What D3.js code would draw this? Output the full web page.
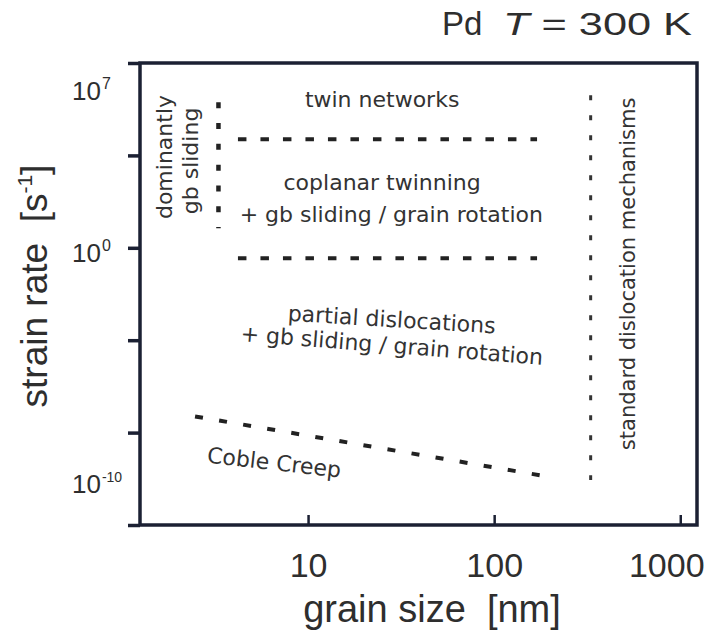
<!DOCTYPE html>
<html>
<head>
<meta charset="utf-8">
<title>Pd deformation map</title>
<script src="https://d3js.org/d3.v7.min.js"></script>
<style>
  body { margin: 0; background: #fff; }
  text { font-family: "Liberation Sans", Arial, sans-serif; fill: #2e2e2e; }
  .note { font-family: "DejaVu Sans", sans-serif; font-size: 22px; fill: #333; }
</style>
</head>
<body>
<div id="chart"></div>
<script>
// axis ticks: grain size in nm, strain rate decades
const xTicks = [10, 100, 1000];
const yTickMarks = [1e8, 1e4, 1e0, 1e-4, 1e-8, 1e-12];
const yLabelExps = [7, 0, -10];

// mechanism boundaries, [grain size nm, log10 strain rate]
const gbSlidingEdge = [[3.3, 6.3], [3.3, 0.85]];
const twinUpperEdge = [[4.2, 4.7], [170, 4.7]];
const twinLowerEdge = [[4.2, -0.45], [170, -0.45]];
const cobleCreepEdge = [[2.47, -7.3], [177, -9.85]];
const standardEdge = [[330, 6.6], [330, -10.05]];

// region names, placed at [grain size, log10 strain rate], angle in degrees
const regionNames = ["twin networks", "coplanar twinning", "+ gb sliding / grain rotation",
    "partial dislocations", "+ gb sliding / grain rotation", "Coble Creep",
    "dominantly", "gb sliding", "standard dislocation mechanisms"];
const regionSizes = [25, 25, 28, 28, 28, 6.5, 1.86, 2.56, 570];
const regionRates = [6.1, 2.5, 1.12, -3.43, -4.55, -9.62, 3.93, 3.76, -1.13];
const regionAngles = [0, 0, 0, 3.5, 4.5, 6.5, -90, -90, -90];

let margin = {top: 63, right: 13, bottom: 114, left: 140};
let w = 710 - margin.left - margin.right;
let h = 639 - margin.top - margin.bottom;

let root = d3.select("#chart")
    .append("svg")
        .attr("width", 710)
        .attr("height", 639);

let svg = root.append("g")
    .attr("transform", "translate(" + margin.left + "," + margin.top + ")");

let x = d3.scaleLog().domain([1.25, 1230]).range([0, w]);
let y = d3.scaleLog().domain([1e-12, 1e8]).range([h, 0]);

let line = d3.line()
    .x(d => x(d[0]))
    .y(d => y(Math.pow(10, d[1])));

// axes
let xAxis = d3.axisBottom(x)
    .tickValues(xTicks)
    .tickSize(-10)
    .tickPadding(28)
    .tickFormat(d3.format("d"));

let yAxis = d3.axisLeft(y)
    .tickValues(yTickMarks)
    .tickSize(12)
    .tickFormat("");

let gx = svg.append("g")
    .attr("transform", "translate(0," + h + ")")
    .call(xAxis);
gx.select(".domain").remove();
gx.selectAll(".tick line").attr("stroke", "#1b2033").attr("stroke-width", 2.5);
gx.selectAll(".tick text")
    .attr("font-size", "34px")
    .attr("font-family", "Liberation Sans, Arial, sans-serif")
    .attr("fill", "#2e2e2e")
    .filter(d => d === 1000).attr("dx", "-14");

let gy = svg.append("g").call(yAxis);
gy.select(".domain").remove();
gy.selectAll(".tick line").attr("stroke", "#1b2033").attr("stroke-width", 3.5);

let yLab = svg.selectAll(".ylab")
    .data(yLabelExps)
    .enter()
    .append("text")
    .attr("class", "ylab")
    .attr("x", -68)
    .attr("y", d => y(Math.pow(10, d)) + 14)
    .attr("font-size", "26px");
yLab.append("tspan").text("10");
yLab.append("tspan")
    .attr("dy", -11)
    .attr("dx", 1)
    .attr("font-size", d => d < 0 ? "14px" : "16px")
    .text(d => d < 0 ? "-" + Math.abs(d) : d);

// frame
svg.append("rect")
    .attr("width", w)
    .attr("height", h)
    .attr("fill", "none")
    .attr("stroke", "#1b2033")
    .attr("stroke-width", 3.5);

// boundaries
svg.append("path").datum(gbSlidingEdge)
    .attr("d", line).attr("fill", "none")
    .attr("stroke", "#222").attr("stroke-width", 4.5)
    .attr("stroke-dasharray", "6,14.8");

[twinUpperEdge, twinLowerEdge].forEach(function(edge) {
    svg.append("path").datum(edge)
        .attr("d", line).attr("fill", "none")
        .attr("stroke", "#222").attr("stroke-width", 4)
        .attr("stroke-dasharray", "8.5,14");
});

svg.append("path").datum(cobleCreepEdge)
    .attr("d", line).attr("fill", "none")
    .attr("stroke", "#222").attr("stroke-width", 4)
    .attr("stroke-dasharray", "8,16.4");

svg.append("path").datum(standardEdge)
    .attr("d", line).attr("fill", "none")
    .attr("stroke", "#333").attr("stroke-width", 3)
    .attr("stroke-dasharray", "5,15");

// region names
svg.selectAll(".note")
    .data(regionNames)
    .enter()
    .append("text")
    .attr("class", "note")
    .attr("text-anchor", "middle")
    .attr("font-size", d => d.startsWith("standard") ? "21px" : null)
    .style("font-size", d => d.startsWith("standard") ? "21px" : null)
    .attr("transform", (d, i) => "translate(" + x(regionSizes[i]) + "," +
        y(Math.pow(10, regionRates[i])) + ") rotate(" + regionAngles[i] + ")")
    .text(d => d);

// axis titles
svg.append("text")
    .attr("x", 432 - margin.left)
    .attr("y", h + 97)
    .attr("text-anchor", "middle")
    .attr("font-size", "38px")
    .style("white-space", "pre")
    .text("grain size  [nm]");

let yt = svg.append("text")
    .attr("transform", "translate(" + (47 - margin.left) + "," + (286 - margin.top) + ") rotate(-90)")
    .attr("text-anchor", "middle")
    .attr("font-size", "37px")
    .style("white-space", "pre");
yt.append("tspan").text("strain rate  [s");
yt.append("tspan").attr("dy", -15).attr("font-size", "21px").text("-1");
yt.append("tspan").attr("dy", 15).text("]");

// title
root.append("text")
    .attr("x", 442)
    .attr("y", 35)
    .attr("font-size", "33px")
    .text("Pd");

let tt = root.append("text")
    .attr("x", 503)
    .attr("y", 35)
    .attr("font-size", "31px")
    .attr("textLength", 189)
    .attr("lengthAdjust", "spacingAndGlyphs");
tt.append("tspan").attr("font-style", "italic").text("T");
tt.append("tspan").text(" = 300 K");
</script>
</body>
</html>
